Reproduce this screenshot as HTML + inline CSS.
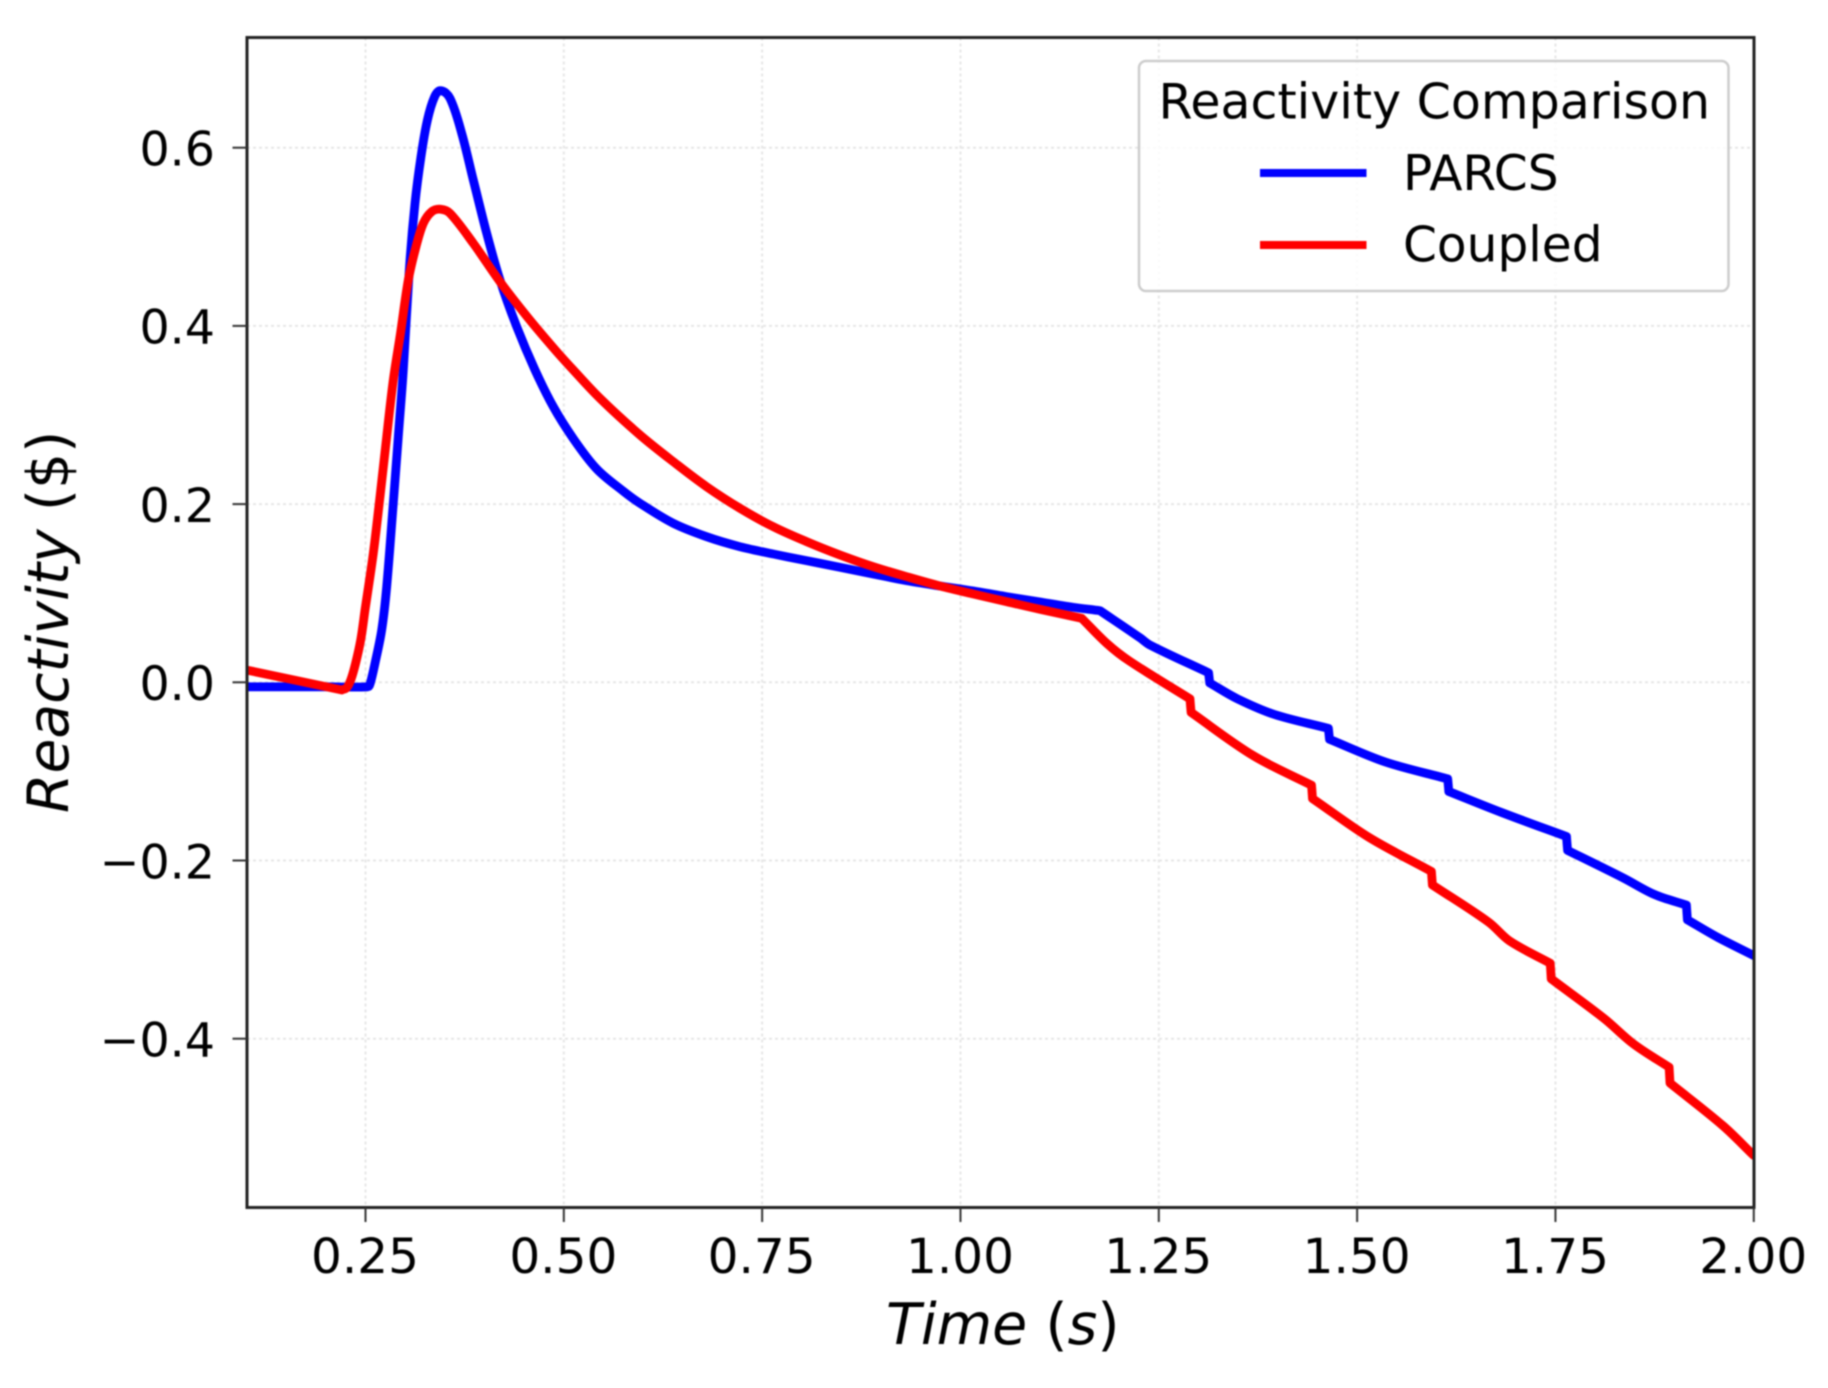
<!DOCTYPE html>
<html lang="en">
<head>
<meta charset="utf-8">
<title>Reactivity Comparison</title>
<style>
html,body{margin:0;padding:0;background:#fff;}
svg{display:block;width:1828px;height:1388px;filter:blur(0.9px);}
text{font-family:"DejaVu Sans","Liberation Sans",sans-serif;fill:#000;}
</style>
</head>
<body>
<svg id="chart" xmlns="http://www.w3.org/2000/svg" width="1828" height="1388" viewBox="0 0 1828 1388">
<defs><clipPath id="plot-clip"><rect x="247" y="37.5" width="1507" height="1170"/></clipPath></defs>
<rect x="0" y="0" width="1828" height="1388" fill="#fff"/>
<g id="grid"></g>
<g id="series" clip-path="url(#plot-clip)"></g>
<rect x="247" y="37.5" width="1507" height="1170" fill="none" stroke="#222" stroke-width="3"/>
<g id="ticks"></g>
<text x="886" y="1344" font-size="57"><tspan font-style="italic">Time</tspan> (<tspan font-style="italic">s</tspan>)</text>
<text transform="translate(68,813) rotate(-90)" font-size="56.8"><tspan font-style="italic">Reactivity</tspan> ($)</text>
<g>
<rect x="1139" y="61" width="589.5" height="230" rx="7" ry="7" fill="#fff" fill-opacity="0.8" stroke="#ccc" stroke-width="2.5"/>
<text x="1158.5" y="118.5" font-size="49">Reactivity Comparison</text>
<line x1="1260" y1="173" x2="1366.5" y2="173" stroke="#0000ff" stroke-width="8"/>
<text x="1403" y="190" font-size="48.6">PARCS</text>
<line x1="1260" y1="245" x2="1366.5" y2="245" stroke="#ff0000" stroke-width="8"/>
<text x="1403" y="261.5" font-size="48.6">Coupled</text>
</g>
</svg>
<script>
const xTicks = [0.25, 0.50, 0.75, 1.00, 1.25, 1.50, 1.75, 2.00];
const xTickLabels = ["0.25", "0.50", "0.75", "1.00", "1.25", "1.50", "1.75", "2.00"];
const yTicks = [0.6, 0.4, 0.2, 0.0, -0.2, -0.4];
const yTickLabels = ["0.6", "0.4", "0.2", "0.0", "\u22120.2", "\u22120.4"];

const parcsTime = [0.1, 0.2, 0.253, 0.2557, 0.262, 0.2704, 0.2767, 0.285, 0.2913, 0.2977, 0.3052, 0.3124, 0.32, 0.328, 0.337, 0.3448, 0.3565, 0.3713, 0.3859, 0.4028, 0.4195, 0.4406, 0.4637, 0.4867, 0.512, 0.5414, 0.575, 0.596, 0.638, 0.68, 0.7221, 0.764, 0.8062, 0.8481, 0.8901, 0.9322, 0.9742, 1.0162, 1.0583, 1.1002, 1.1422, 1.1759, 1.2263, 1.2395, 1.3128, 1.3141, 1.3493, 1.3959, 1.4638, 1.4652, 1.5357, 1.6142, 1.6156, 1.6821, 1.7639, 1.7653, 1.8352, 1.8751, 1.9151, 1.9163, 1.9549, 2.0];
const parcsValues = [-0.005, -0.005, -0.005, -0.002, 0.0213, 0.0587, 0.1073, 0.2009, 0.2756, 0.3505, 0.4627, 0.5376, 0.59, 0.631, 0.657, 0.664, 0.6554, 0.6162, 0.5638, 0.5039, 0.4515, 0.3991, 0.3505, 0.3093, 0.2735, 0.2395, 0.2145, 0.2009, 0.1785, 0.1634, 0.1522, 0.144, 0.1365, 0.1291, 0.1215, 0.114, 0.1081, 0.1025, 0.0961, 0.0901, 0.0842, 0.0804, 0.05, 0.0415, 0.0107, -0.0007, -0.0186, -0.0361, -0.0517, -0.064, -0.0894, -0.1084, -0.1226, -0.1461, -0.1731, -0.1887, -0.2194, -0.2383, -0.2501, -0.2666, -0.2864, -0.3067];
const parcsKinks = [1.1759];

const coupledTime = [0.1, 0.22, 0.2265, 0.232, 0.2375, 0.244, 0.2494, 0.2598, 0.2683, 0.2767, 0.285, 0.2935, 0.304, 0.3137, 0.3229, 0.3334, 0.3448, 0.3565, 0.3859, 0.4195, 0.4532, 0.4867, 0.512, 0.5456, 0.596, 0.638, 0.68, 0.7221, 0.764, 0.8062, 0.8481, 0.8901, 0.9322, 0.9742, 1.0162, 1.0583, 1.1002, 1.1528, 1.1843, 1.2129, 1.2893, 1.2907, 1.3692, 1.4425, 1.4438, 1.5157, 1.5936, 1.5949, 1.6655, 1.6921, 1.7434, 1.7447, 1.8118, 1.8485, 1.8932, 1.8944, 1.9616, 2.0];
const coupledValues = [0.0138, -0.0086, -0.006, 0.004, 0.0213, 0.0475, 0.0811, 0.1448, 0.2083, 0.2756, 0.3393, 0.3879, 0.4515, 0.4889, 0.5151, 0.5282, 0.531, 0.5264, 0.4927, 0.4496, 0.411, 0.3755, 0.3505, 0.3187, 0.2776, 0.2476, 0.2195, 0.1953, 0.1746, 0.1578, 0.1429, 0.1297, 0.1185, 0.1081, 0.0991, 0.0905, 0.0819, 0.0718, 0.0438, 0.0239, -0.0186, -0.0338, -0.0824, -0.1155, -0.1305, -0.1745, -0.2123, -0.2274, -0.269, -0.2902, -0.3153, -0.3328, -0.3777, -0.406, -0.432, -0.4498, -0.498, -0.5311];
const coupledKinks = [0.22, 1.1528];

const SVG_NS = "http://www.w3.org/2000/svg";
const plotLeft = 247, plotRight = 1754, plotTop = 37.5, plotBottom = 1207.5;

function xScale(t) { return 365.5 + (t - 0.25) * 793.3; }
function yScale(v) { return 682.3 - v * 891; }

function make(tag, attrs, parent) {
  const el = document.createElementNS(SVG_NS, tag);
  for (const k in attrs) el.setAttribute(k, attrs[k]);
  parent.appendChild(el);
  return el;
}

const gridGroup = document.getElementById("grid");
const tickGroup = document.getElementById("ticks");
const seriesGroup = document.getElementById("series");

xTicks.forEach(function (t, i) {
  const x = xScale(t);
  const g = make("line", {x1: x, y1: plotTop, x2: x, y2: plotBottom, stroke: "#e6e6e6", "stroke-width": 2, "stroke-dasharray": "3 3"}, gridGroup);
  
  
  const m = make("line", {x1: x, y1: plotBottom, x2: x, y2: plotBottom + 14.5, stroke: "#333", "stroke-width": 2}, tickGroup);
  
  
  const l = make("text", {x: x - 0.5, y: 1273, "font-size": 48.5, "text-anchor": "middle"}, tickGroup);
  l.textContent = xTickLabels[i];
  
  
});

yTicks.forEach(function (v, i) {
  const y = yScale(v);
  const g = make("line", {x1: plotLeft, y1: y, x2: plotRight, y2: y, stroke: "#e6e6e6", "stroke-width": 2, "stroke-dasharray": "3 3"}, gridGroup);
  
  
  const m = make("line", {x1: plotLeft - 14.5, y1: y, x2: plotLeft, y2: y, stroke: "#333", "stroke-width": 2}, tickGroup);
  
  
  const l = make("text", {x: 215, y: y + 17.8, "font-size": 47.5, "text-anchor": "end"}, tickGroup);
  l.textContent = yTickLabels[i];
  
  
});

/* Smooth path through the read points; step edges and listed kinks stay sharp. */
function smoothPath(times, values, kinks) {
  const n = times.length;
  const pts = times.map(function (t, i) { return [xScale(t), yScale(values[i])]; });
  function isCorner(i) {
    if (i === 0 || i === n - 1) return true;
    if (kinks.indexOf(times[i]) >= 0) return true;
    return (times[i + 1] - times[i] < 0.002) || (times[i] - times[i - 1] < 0.002);
  }
  function unit(a, b) {
    const dx = b[0] - a[0], dy = b[1] - a[1], d = Math.hypot(dx, dy) || 1;
    return [dx / d, dy / d];
  }
  let path = "M" + pts[0][0].toFixed(1) + " " + pts[0][1].toFixed(1);
  for (let i = 0; i < n - 1; i++) {
    const a = pts[i], b = pts[i + 1];
    const len = Math.hypot(b[0] - a[0], b[1] - a[1]);
    const ta = isCorner(i) ? unit(a, b) : unit(pts[i - 1], b);
    const tb = isCorner(i + 1) ? unit(a, b) : unit(a, pts[i + 2]);
    path += " C" + (a[0] + ta[0] * len / 3).toFixed(1) + " " + (a[1] + ta[1] * len / 3).toFixed(1) +
            " " + (b[0] - tb[0] * len / 3).toFixed(1) + " " + (b[1] - tb[1] * len / 3).toFixed(1) +
            " " + b[0].toFixed(1) + " " + b[1].toFixed(1);
  }
  return path;
}

const parcsLine = make("path", {d: smoothPath(parcsTime, parcsValues, parcsKinks), fill: "none", stroke: "#0000ff", "stroke-width": 8.8, "stroke-linejoin": "round", "stroke-linecap": "round"}, seriesGroup);



const coupledLine = make("path", {d: smoothPath(coupledTime, coupledValues, coupledKinks), fill: "none", stroke: "#ff0000", "stroke-width": 8.8, "stroke-linejoin": "round", "stroke-linecap": "round"}, seriesGroup);


</script>
</body>
</html>
